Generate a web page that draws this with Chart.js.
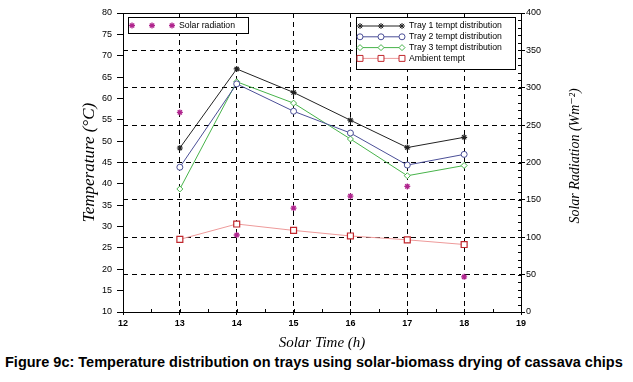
<!DOCTYPE html>
<html>
<head>
<meta charset="utf-8">
<script src="https://cdn.jsdelivr.net/npm/chart.js@4.4.1/dist/chart.umd.min.js"></script>
<style>
  html, body { margin: 0; padding: 0; background: #fff; }
  #wrap { position: relative; width: 633px; height: 382px; }
  #box { position: absolute; left: 0; top: 0; width: 633px; height: 354px; }
  #cap { position: absolute; left: 5px; top: 354px; font: bold 14.5px 'Liberation Sans', Arial, sans-serif; white-space: nowrap; color: #000; }
</style>
</head>
<body>
<div id="wrap">
  <div id="box"><canvas id="tempChart"></canvas></div>
  <div id="cap">Figure 9c: Temperature distribution on trays using solar-biomass drying of cassava chips</div>
</div>
<script>
// values
const hours = [13, 14, 15, 16, 17, 18];
const tray1 = [48.4, 66.9, 61.4, 54.9, 48.5, 50.9];
const tray2 = [43.9, 63.4, 57.0, 51.9, 44.4, 46.9];
const tray3 = [38.8, 63.9, 58.9, 50.5, 41.9, 44.3];
const ambient = [27.0, 30.6, 29.1, 27.8, 26.9, 25.8];
const solar = [267, 103, 139, 155, 168, 47];

const tempTicks = [10, 80, 5];     // min, max, step (left axis)
const radTicks = [0, 400, 50];     // min, max, step (right axis)
const timeTicks = [12, 19, 1];     // min, max, step (x axis)

function pts(vals) {
  return hours.map(function(h, i) { return { x: h, y: vals[i] }; });
}

const legendA = [
  { label: 'Tray 1 tempt distribution', line: '#222', point: '#222', style: 'star', r: 3, fill: '#222' },
  { label: 'Tray 2 tempt distribution', line: '#4b4f97', point: '#4b4f97', style: 'circle', r: 3, fill: '#fff' },
  { label: 'Tray 3 tempt distribution', line: '#47b34a', point: '#47b34a', style: 'rectRot', r: 3, fill: '#fff' },
  { label: 'Ambient tempt', line: '#ee9a9a', point: '#c0272d', style: 'rect', r: 4.2, fill: '#fff' }
];

const extras = {
  id: 'extras',
  afterDatasetsDraw: function(chart) {
    const ctx = chart.ctx;
    const a = chart.chartArea;
    const xs = chart.scales.x, yr = chart.scales.y1;
    ctx.save();
    ctx.strokeStyle = '#000';
    ctx.lineWidth = 1;
    ctx.setLineDash([]);
    // top frame
    ctx.beginPath();
    ctx.moveTo(a.left, Math.round(a.top) + 0.5);
    ctx.lineTo(a.right, Math.round(a.top) + 0.5);
    ctx.stroke();
    // minor ticks
    ctx.beginPath();
    for (let v = radTicks[0]; v <= radTicks[1]; v += 10) {
      const y = Math.round(yr.getPixelForValue(v)) + 0.5;
      ctx.moveTo(a.right - 3, y); ctx.lineTo(a.right, y);
    }
    for (let v = timeTicks[0]; v <= timeTicks[1]; v += 0.5) {
      const x = Math.round(xs.getPixelForValue(v)) + 0.5;
      ctx.moveTo(x, a.bottom - 3); ctx.lineTo(x, a.bottom);
    }
    ctx.stroke();

    const drawPoint = Chart.helpers.drawPoint;
    ctx.font = '8.7px "Liberation Sans", Arial, sans-serif';
    ctx.textBaseline = 'middle';
    ctx.textAlign = 'left';

    // legend 1 (solar radiation)
    ctx.fillStyle = '#fff';
    ctx.fillRect(128.5, 17.5, 120, 16);
    ctx.strokeStyle = '#000';
    ctx.strokeRect(128.5, 17.5, 120, 16);
    [132, 152, 172].forEach(function(x) {
      ctx.strokeStyle = '#b0258e';
      ctx.fillStyle = '#b0258e';
      ctx.lineWidth = 1.3;
      drawPoint(ctx, { pointStyle: 'star', radius: 3, borderWidth: 1.3, rotation: 0 }, x, 25.5);
    });
    ctx.fillStyle = '#000';
    ctx.fillText('Solar radiation', 179, 25.5);

    // legend 2 (temperatures)
    ctx.fillStyle = '#fff';
    ctx.fillRect(356.5, 17.5, 159, 52);
    ctx.lineWidth = 1;
    ctx.strokeStyle = '#000';
    ctx.strokeRect(356.5, 17.5, 159, 52);
    legendA.forEach(function(e, i) {
      const y = 26 + i * 10.8;
      ctx.strokeStyle = e.line;
      ctx.lineWidth = 1;
      ctx.beginPath();
      ctx.moveTo(360, y); ctx.lineTo(402, y);
      ctx.stroke();
      [360, 381, 402].forEach(function(x) {
        ctx.strokeStyle = e.point;
        ctx.fillStyle = e.fill;
        ctx.lineWidth = 1;
        drawPoint(ctx, { pointStyle: e.style, radius: e.r, borderWidth: 1, rotation: 0 }, x, y);
      });
      ctx.fillStyle = '#000';
      ctx.fillText(e.label, 409, y);
    });

    // right axis title, reading bottom to top
    ctx.translate(575, 156);
    ctx.rotate(-Math.PI / 2);
    ctx.textAlign = 'center';
    ctx.fillStyle = '#000';
    ctx.font = 'italic 14px "Liberation Serif", "DejaVu Serif", serif';
    ctx.fillText('Solar Radiation (Wm\u207B\u00B2)', 0, 0);
    ctx.restore();
  }
};

const ctx = document.getElementById('tempChart').getContext('2d');

new Chart(ctx, {
  type: 'line',
  data: {
    datasets: [
      {
        label: 'Solar radiation',
        data: pts(solar),
        yAxisID: 'y1',
        showLine: false,
        pointStyle: 'star',
        pointRadius: 3,
        pointBorderWidth: 1.3,
        borderColor: '#b0258e',
        backgroundColor: '#b0258e'
      },
      {
        label: 'Tray 1 tempt distribution',
        data: pts(tray1),
        yAxisID: 'y',
        borderColor: '#222',
        borderWidth: 1,
        pointStyle: 'star',
        pointRadius: 3,
        pointBorderWidth: 1.2,
        pointBorderColor: '#222'
      },
      {
        label: 'Tray 2 tempt distribution',
        data: pts(tray2),
        yAxisID: 'y',
        borderColor: '#4b4f97',
        borderWidth: 1,
        pointStyle: 'circle',
        pointRadius: 3,
        pointBorderWidth: 1,
        pointBackgroundColor: '#fff',
        pointBorderColor: '#4b4f97'
      },
      {
        label: 'Tray 3 tempt distribution',
        data: pts(tray3),
        yAxisID: 'y',
        borderColor: '#47b34a',
        borderWidth: 1,
        pointStyle: 'rectRot',
        pointRadius: 3,
        pointBorderWidth: 1,
        pointBackgroundColor: '#fff',
        pointBorderColor: '#47b34a'
      },
      {
        label: 'Ambient tempt',
        data: pts(ambient),
        yAxisID: 'y',
        borderColor: '#ee9a9a',
        borderWidth: 1,
        pointStyle: 'rect',
        pointRadius: 4.2,
        pointBorderWidth: 1.2,
        pointBackgroundColor: '#fff',
        pointBorderColor: '#c0272d'
      }
    ]
  },
  options: {
    responsive: true,
    maintainAspectRatio: false,
    animation: false,
    layout: { padding: { top: 13, left: 0, right: 0, bottom: 0 } },
    plugins: {
      legend: { display: false },
      tooltip: { enabled: false }
    },
    scales: {
      x: {
        type: 'linear',
        position: 'bottom',
        min: timeTicks[0],
        max: timeTicks[1],
        afterFit: function(s) { s.height = 42; },
        ticks: {
          stepSize: timeTicks[2],
          color: '#000',
          padding: 3,
          font: { family: 'Liberation Sans', size: 9, weight: 'bold' }
        },
        grid: {
          color: function(c) {
            const v = c.tick && c.tick.value;
            return (v > timeTicks[0] && v < timeTicks[1]) ? '#000' : 'rgba(0,0,0,0)';
          },
          tickColor: '#000',
          tickBorderDash: [],
          tickLength: 3
        },
        border: { display: true, color: '#000', width: 1, dash: [5, 4] },
        title: {
          display: true,
          text: 'Solar Time (h)',
          color: '#000',
          padding: { top: 0, bottom: 2 },
          font: { family: 'Liberation Serif', style: 'italic', size: 15 }
        }
      },
      y: {
        position: 'left',
        min: tempTicks[0],
        max: tempTicks[1],
        afterFit: function(s) { s.width = 123; },
        ticks: {
          stepSize: tempTicks[2],
          color: '#000',
          padding: 5,
          font: { family: 'Liberation Sans', size: 9 }
        },
        grid: {
          drawOnChartArea: false,
          tickColor: '#000',
          tickLength: 6
        },
        border: { display: true, color: '#000', width: 1 },
        title: {
          display: true,
          text: 'Temperature (\u00B0C)',
          color: '#000',
          padding: { top: 79, bottom: 0 },
          font: { family: 'Liberation Serif', style: 'italic', size: 17 }
        }
      },
      y1: {
        position: 'right',
        min: radTicks[0],
        max: radTicks[1],
        afterFit: function(s) { s.width = 112; },
        ticks: {
          stepSize: radTicks[2],
          color: '#000',
          padding: 1,
          font: { family: 'Liberation Sans', size: 9 }
        },
        grid: {
          drawOnChartArea: true,
          color: function(c) {
            const v = c.tick && c.tick.value;
            return (v > radTicks[0] && v < radTicks[1]) ? '#000' : 'rgba(0,0,0,0)';
          },
          tickColor: '#000',
          tickBorderDash: [],
          tickLength: 4
        },
        border: { display: true, color: '#000', width: 1, dash: [5, 4] }
      }
    }
  },
  plugins: [extras]
});
</script>
</body>
</html>
